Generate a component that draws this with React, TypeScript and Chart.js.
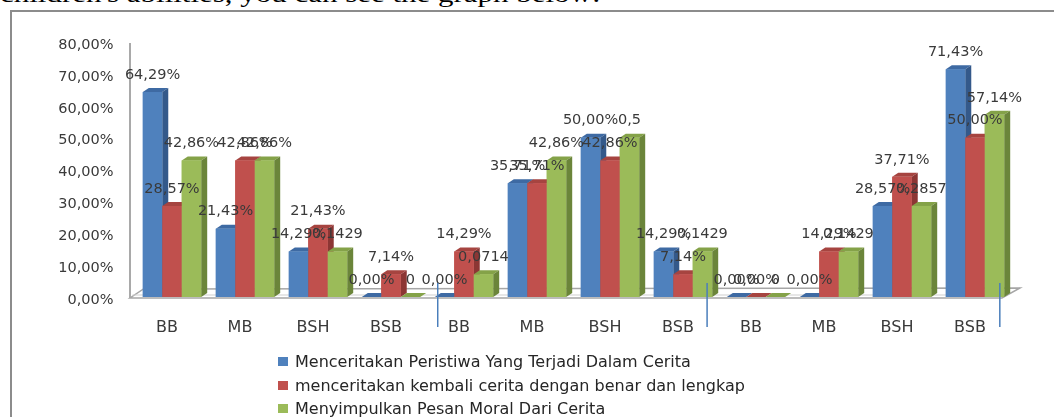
import React, { useEffect, useRef } from "react";
import { Chart, registerables } from "chart.js";

Chart.register(...registerables);

// ---------- data ----------
const categories = ["BB", "MB", "BSH", "BSB", "BB", "MB", "BSH", "BSB", "BB", "MB", "BSH", "BSB"];

const seriesNames = [
  "Menceritakan Peristiwa Yang Terjadi Dalam Cerita",
  "menceritakan kembali cerita dengan benar dan lengkap",
  "Menyimpulkan Pesan Moral Dari Cerita",
];

const peristiwaValues = [64.29, 21.43, 14.29, 0, 0, 35.71, 50.0, 14.29, 0, 0, 28.57, 71.43];
const kembaliValues = [28.57, 42.86, 21.43, 7.14, 14.29, 35.71, 42.86, 7.14, 0, 14.29, 37.71, 50.0];
const pesanValues = [42.86, 42.86, 14.29, 0, 7.14, 42.86, 50.0, 14.29, 0, 14.29, 28.57, 57.14];

const peristiwaLabels = ["64,29%", "21,43%", "14,29%", "0,00%", "0,00%", "35,71%", "50,00%", "14,29%", "0,00%", "0,00%", "28,57%", "71,43%"];
const kembaliLabels = ["28,57%", "42,86%", "21,43%", "7,14%", "14,29%", "35,71%", "42,86%", "7,14%", "0,00%", "14,29%", "37,71%", "50,00%"];
const pesanLabels = ["42,86%", "42,86%", "0,1429", "0", "0,0714", "42,86%", "0,5", "0,1429", "0", "0,1429", "0,2857", "57,14%"];

const yMin = 0;
const yMax = 80;
const yStep = 10;

// ---------- styles ----------
const frontColors = ["#4f81bd", "#c0504d", "#9bbb59"];
const sideColors = ["#34598a", "#8c3634", "#6b853a"];
const topColors = ["#3e6aa3", "#a64440", "#84a248"];
const LABEL_FONT = "DejaVu Sans";
const TEXT_COLOR = "#3a3a3a";
const DX = 6;
const DY = -4;
// decorative separator positions (in category units from the left edge)
const separatorUnits = [4.14, 7.83, 11.84];

const allValues = [peristiwaValues, kembaliValues, pesanValues];
const allLabels = [peristiwaLabels, kembaliLabels, pesanLabels];

const threeDPlugin = {
  id: "threeD",
  beforeDatasetsDraw(chart: any) {
    const { ctx, chartArea } = chart;
    const { left, right, top, bottom } = chartArea;
    ctx.save();
    // back wall line
    ctx.strokeStyle = "#8c8c8c";
    ctx.lineWidth = 1.5;
    ctx.beginPath();
    ctx.moveTo(left - 5.5, top + 1);
    ctx.lineTo(left - 5.5, bottom + 1);
    ctx.stroke();
    // floor
    ctx.strokeStyle = "#a6a6a6";
    ctx.fillStyle = "#ffffff";
    ctx.beginPath();
    ctx.moveTo(left - 5.5, bottom + 1);
    ctx.lineTo(right - 9.5, bottom + 1);
    ctx.lineTo(right + 8.5, bottom - 9);
    ctx.lineTo(left + 8, bottom - 8);
    ctx.closePath();
    ctx.fill();
    ctx.stroke();
    ctx.strokeStyle = "#cfcfcf";
    ctx.lineWidth = 1;
    ctx.beginPath();
    ctx.moveTo(left - 3, bottom - 2);
    ctx.lineTo(right - 6, bottom - 2);
    ctx.stroke();
    ctx.restore();
  },
  afterDatasetsDraw(chart: any) {
    const { ctx } = chart;
    ctx.save();
    const n = categories.length;
    for (let i = 0; i < n; i++) {
      for (let d = 0; d < allValues.length; d++) {
        const el = chart.getDatasetMeta(d).data[i];
        if (!el) continue;
        const { x, y, base, width } = el.getProps(["x", "y", "base", "width"], true);
        const l = x - width / 2;
        const r = x + width / 2;
        // top face
        ctx.fillStyle = topColors[d];
        ctx.beginPath();
        ctx.moveTo(l, y);
        ctx.lineTo(l + DX, y + DY);
        ctx.lineTo(r + DX, y + DY);
        ctx.lineTo(r, y);
        ctx.closePath();
        ctx.fill();
        // side face
        ctx.fillStyle = sideColors[d];
        ctx.beginPath();
        ctx.moveTo(r, y);
        ctx.lineTo(r + DX, y + DY);
        ctx.lineTo(r + DX, base + DY);
        ctx.lineTo(r, base);
        ctx.closePath();
        ctx.fill();
        // front face
        ctx.fillStyle = frontColors[d];
        ctx.fillRect(l, y, width, base - y);
      }
    }
    ctx.restore();
  },
  afterDraw(chart: any) {
    const { ctx, chartArea } = chart;
    const xs = chart.scales.x;
    ctx.save();
    // data labels
    ctx.font = `14.5px "${LABEL_FONT}"`;
    ctx.fillStyle = TEXT_COLOR;
    ctx.textAlign = "center";
    ctx.textBaseline = "middle";
    for (let d = 0; d < allLabels.length; d++) {
      const meta = chart.getDatasetMeta(d);
      meta.data.forEach((el: any, i: number) => {
        const { x, y } = el.getProps(["x", "y"], true);
        ctx.fillText(allLabels[d][i], x, y - 17);
      });
    }
    // separators
    ctx.strokeStyle = "#4a7ebb";
    ctx.lineWidth = 1.5;
    separatorUnits.forEach((u) => {
      const px = xs.getPixelForDecimal(u / categories.length);
      ctx.beginPath();
      ctx.moveTo(px, chartArea.bottom - 14);
      ctx.lineTo(px, chartArea.bottom + 30);
      ctx.stroke();
    });
    ctx.restore();
  },
};

function ChartView() {
  const ref = useRef<HTMLCanvasElement | null>(null);
  useEffect(() => {
    if (!ref.current) return;
    const chart = new Chart(ref.current, {
      type: "bar",
      data: {
        labels: categories,
        datasets: allValues.map((vals, d) => ({
          label: seriesNames[d],
          data: vals,
          backgroundColor: frontColors[d],
          borderWidth: 0,
          categoryPercentage: 0.8,
          barPercentage: 1.0,
        })),
      },
      options: {
        animation: false,
        responsive: true,
        maintainAspectRatio: false,
        layout: { padding: { top: 42, right: 42.5, left: 0, bottom: 0 } },
        plugins: {
          legend: { display: false },
          tooltip: { enabled: false },
        },
        scales: {
          x: {
            grid: { display: false, drawTicks: false },
            border: { display: false },
            ticks: {
              padding: 21,
              labelOffset: -5,
              color: TEXT_COLOR,
              font: { family: LABEL_FONT, size: 16 },
              maxRotation: 0,
              autoSkip: false,
            },
            afterFit: (scale: any) => {
              scale.height = 120;
            },
          },
          y: {
            min: yMin,
            max: yMax,
            grid: { display: false, drawTicks: false },
            border: { display: false },
            ticks: {
              stepSize: yStep,
              padding: 22,
              labelOffset: 3,
              color: TEXT_COLOR,
              font: { family: LABEL_FONT, size: 14.5 },
              callback: (v: any) => Number(v).toFixed(2).replace(".", ",") + "%",
            },
            afterFit: (scale: any) => {
              scale.width = 135.5;
            },
          },
        },
      },
      plugins: [threeDPlugin],
    });
    return () => chart.destroy();
  }, []);
  return <canvas ref={ref} />;
}

export default function App() {
  return (
    <div
      style={{
        position: "fixed",
        left: 0,
        top: 0,
        width: 1054,
        height: 417,
        overflow: "hidden",
        background: "#ffffff",
      }}
    >
      <div
        style={{
          position: "absolute",
          left: 0,
          top: -18.5,
          fontFamily: '"Liberation Serif", serif',
          fontSize: 24,
          lineHeight: "24px",
          whiteSpace: "nowrap",
          transform: "scaleX(1.29)",
          transformOrigin: "left top",
          color: "#000",
        }}
      >
        children's abilities, you can see the graph below:
      </div>
      <div
        style={{
          position: "absolute",
          left: 10,
          top: 10,
          width: 1200,
          height: 600,
          border: "2px solid #8c8c8c",
        }}
      />
      <div style={{ position: "absolute", left: 0, top: 0, width: 1054, height: 417 }}>
        <ChartView />
      </div>
      <div style={{ position: "absolute", left: 278, top: 350 }}>
        {seriesNames.map((name, d) => (
          <div
            key={d}
            style={{
              display: "flex",
              alignItems: "center",
              height: 23.5,
              fontFamily: `"${LABEL_FONT}", sans-serif`,
              fontSize: 16,
              color: "#262626",
              whiteSpace: "nowrap",
            }}
          >
            <span
              style={{
                display: "inline-block",
                width: 10,
                height: 9,
                background: frontColors[d],
                marginRight: 7,
              }}
            />
            {name}
          </div>
        ))}
      </div>
    </div>
  );
}
